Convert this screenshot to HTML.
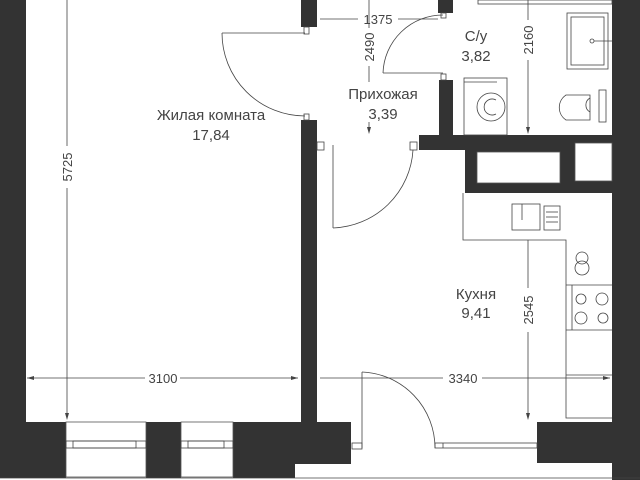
<!DOCTYPE html><html><head><style>body{margin:0;background:#fff}svg{display:block}</style></head><body>
<svg width="640" height="480" viewBox="0 0 640 480" xmlns="http://www.w3.org/2000/svg" font-family="Liberation Sans, sans-serif">
<rect width="640" height="480" fill="#fff"/>
<g fill="#333">
<rect x="0" y="0" width="26" height="478"/>
<rect x="0" y="422" width="66" height="56"/>
<rect x="146" y="422" width="35" height="56"/>
<rect x="233" y="422" width="62" height="56"/>
<rect x="233" y="422" width="118" height="42"/>
<rect x="301" y="0" width="16" height="27"/>
<rect x="301" y="120" width="16" height="302"/>
<rect x="438" y="0" width="15" height="13"/>
<rect x="439" y="80" width="14" height="70"/>
<rect x="419" y="135" width="221" height="15"/>
<rect x="465" y="150" width="147" height="43"/>
<rect x="612" y="0" width="28" height="480"/>
<rect x="537" y="422" width="75" height="41"/>
</g>
<g fill="#fff" stroke="#555" stroke-width="0.8">
<rect x="477" y="152" width="83" height="31"/>
<rect x="575" y="143" width="37" height="38"/>
<rect x="66" y="422" width="80" height="55"/>
<rect x="181" y="422" width="52" height="55"/>
</g>
<g fill="none" stroke="#444" stroke-width="0.8">
<rect x="66" y="441" width="80" height="7"/><rect x="73" y="441" width="63" height="7"/>
<rect x="181" y="441" width="52" height="7"/><rect x="188" y="441" width="36" height="7"/>
<line x1="0" y1="478" x2="640" y2="478"/>
<line x1="222" y1="33" x2="305" y2="33"/>
<path d="M222 33 A83 83 0 0 0 305 116"/>
<rect x="304" y="27" width="5" height="7"/><rect x="304" y="114" width="5" height="6"/>
<line x1="383" y1="73" x2="443" y2="73"/>
<path d="M383 73 A60 60 0 0 1 443 15"/>
<rect x="441" y="13" width="5" height="5"/><rect x="441" y="74" width="5" height="6"/>
<line x1="333" y1="145" x2="333" y2="228"/>
<rect x="317" y="142" width="7" height="8"/><rect x="410" y="142" width="7" height="8"/>
<path d="M333 228 A83 83 0 0 0 413 150"/>
<line x1="362" y1="372" x2="362" y2="448"/>
<path d="M362 372 A76 76 0 0 1 435 448"/>
<rect x="352" y="443" width="10" height="6"/>
<rect x="435" y="443" width="102" height="5"/><line x1="443" y1="443" x2="443" y2="448"/>
<polyline points="463,193 463,240 566,240 566,418 612,418"/>
<line x1="566" y1="285" x2="612" y2="285"/><line x1="566" y1="330" x2="612" y2="330"/>
<line x1="566" y1="375" x2="612" y2="375"/>
<line x1="572" y1="285" x2="572" y2="330"/>
<circle cx="581" cy="299" r="5"/><circle cx="602" cy="299" r="6"/>
<circle cx="581" cy="318" r="6"/><circle cx="603" cy="318" r="5"/>
<circle cx="582" cy="258" r="6"/><circle cx="582" cy="268" r="7"/>
<rect x="512" y="204" width="28" height="26"/><line x1="522" y1="204" x2="522" y2="220"/>
<rect x="544" y="206" width="16" height="24"/>
<line x1="546" y1="212" x2="558" y2="212"/><line x1="546" y1="217" x2="558" y2="217"/><line x1="546" y1="222" x2="558" y2="222"/>
<rect x="567" y="13" width="41" height="56"/><rect x="571" y="17" width="33" height="48"/>
<line x1="594" y1="41" x2="612" y2="41"/><circle cx="592" cy="41" r="2"/>
<rect x="464" y="78" width="43" height="57"/><line x1="464" y1="82" x2="497" y2="82"/>
<circle cx="491" cy="107" r="14"/><path d="M496 100 A8 8 0 1 0 496 114"/>
<path d="M590 95 H566 A15 15 0 0 0 566 120 H590 Z"/><rect x="599" y="90" width="7" height="32"/>
<path d="M590 98 A8 8 0 0 0 590 112"/>
<rect x="478" y="0" width="134" height="4"/>
</g>
<g stroke="#444" stroke-width="0.8" fill="none">
<line x1="67" y1="0" x2="67" y2="146"/><line x1="67" y1="188" x2="67" y2="418"/>
<line x1="27" y1="378" x2="145" y2="378"/><line x1="180" y1="378" x2="298" y2="378"/>
<line x1="320" y1="378" x2="443" y2="378"/><line x1="482" y1="378" x2="610" y2="378"/>
<line x1="320" y1="19" x2="358" y2="19"/><line x1="398" y1="19" x2="438" y2="19"/>
<line x1="369" y1="0" x2="369" y2="28"/><line x1="369" y1="66" x2="369" y2="82"/><line x1="369" y1="122" x2="369" y2="132"/>
<line x1="528" y1="0" x2="528" y2="20"/><line x1="528" y1="60" x2="528" y2="132"/>
<line x1="528" y1="240" x2="528" y2="288"/><line x1="528" y1="332" x2="528" y2="418"/>
</g>
<g fill="#444">
<path d="M27 378 l7 -2 v4z"/><path d="M298 378 l-7 -2 v4z"/><path d="M610 378 l-7 -2 v4z"/>
<path d="M67 420 l-2 -7 h4z"/><path d="M369 134 l-2 -7 h4z"/><path d="M528 134 l-2 -7 h4z"/><path d="M528 420 l-2 -7 h4z"/>
</g>
<g font-size="13" fill="#444" text-anchor="middle">
<text x="163" y="383">3100</text><text x="463" y="383">3340</text><text x="378" y="24">1375</text>
<text transform="translate(72,167) rotate(-90)">5725</text>
<text transform="translate(374,47) rotate(-90)">2490</text>
<text transform="translate(533,40) rotate(-90)">2160</text>
<text transform="translate(533,310) rotate(-90)">2545</text>
</g>
<g font-size="15" fill="#444" text-anchor="middle">
<text x="211" y="120">Жилая комната</text><text x="211" y="140">17,84</text>
<text x="383" y="99">Прихожая</text><text x="383" y="119">3,39</text>
<text x="476" y="41">С/у</text><text x="476" y="61">3,82</text>
<text x="476" y="299">Кухня</text><text x="476" y="318">9,41</text>
</g>
</svg></body></html>
